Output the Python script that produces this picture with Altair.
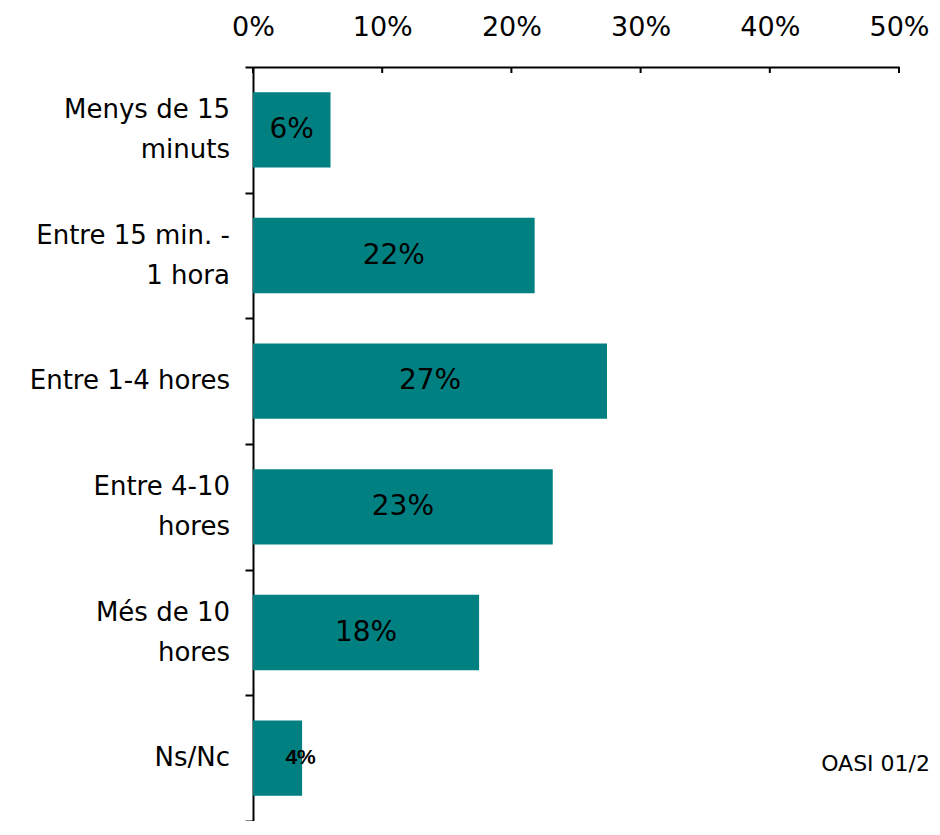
import altair as alt
import pandas as pd

categories = ["Menys de 15|minuts", "Entre 15 min. -|1 hora", "Entre 1-4 hores",
              "Entre 4-10|hores", "Més de 10|hores", "Ns/Nc"]
values = [6.0, 21.8, 27.4, 23.2, 17.5, 3.8]
labels = ["6%", "22%", "27%", "23%", "18%", "4%"]
main_label = [True, True, True, True, True, False]
tick_values = [0, 10, 20, 30, 40, 50]
source_note = ["OASI 01/2"]

parts = [c.split("|") for c in categories]
df = pd.DataFrame({
    "cat": categories, "val": values, "lab": labels, "main": main_label,
    "l1": [p[0] for p in parts],
    "l2": [p[1] if len(p) > 1 else "" for p in parts],
    "two": [len(p) > 1 for p in parts],
})

FONT = "DejaVu Sans"
W, H = 646, 754

xscale = alt.Scale(domain=[0, 50], nice=False)
yscale = alt.Scale(paddingInner=0, paddingOuter=0)
Y = alt.Y("cat:N", sort=None, scale=yscale)

base = alt.Chart(df)

bars = base.mark_bar(color="#008080", height=alt.RelativeBandSize(0.6)).encode(
    x=alt.X("val:Q", scale=xscale,
            axis=alt.Axis(orient="top", values=tick_values, labelExpr="datum.value + '%'",
                          title=None, ticks=False, tickSize=0, labelFont=FONT, labelFontSize=27,
                          labelColor="black", labelPadding=32, labelBaseline="alphabetic",
                          domainColor="black", domainWidth=2, grid=False, labelFlush=False)),
    y=alt.Y("cat:N", sort=None, scale=yscale,
            axis=alt.Axis(title=None, labels=False, tickBand="extent",
                          tickSize=8, tickWidth=2, tickColor="black", domainColor="black",
                          domainWidth=2)),
)

ylab_common = dict(font=FONT, fontSize=26, color="black", align="right", baseline="middle")
ylab_top = base.transform_filter("datum.two").mark_text(dy=-20, **ylab_common).encode(
    x=alt.value(-23), y=Y, text="l1:N")
ylab_bot = base.transform_filter("datum.two").mark_text(dy=20, **ylab_common).encode(
    x=alt.value(-23), y=Y, text="l2:N")
ylab_one = base.transform_filter("!datum.two").mark_text(**ylab_common).encode(
    x=alt.value(-23), y=Y, text="l1:N")

main_text = base.transform_filter("datum.main").transform_calculate(
    mid="datum.val / 2"
).mark_text(font=FONT, fontSize=28, color="black").encode(
    x=alt.X("mid:Q", scale=xscale), y=Y, text="lab:N"
)

small_text = base.transform_filter("!datum.main").transform_calculate(
    mid="datum.val / 2"
).mark_text(font="Liberation Sans", fontWeight="bold", fontSize=21, color="black", dx=23).encode(
    x=alt.X("mid:Q", scale=xscale), y=Y, text="lab:N"
)

tick_rules = alt.Chart(pd.DataFrame({"t": tick_values})).mark_rule(
    color="black", strokeWidth=2
).encode(x=alt.X("t:Q", scale=xscale), y=alt.value(0), y2=alt.value(6))

note = alt.Chart(pd.DataFrame({"t": source_note})).mark_text(
    align="right", font=FONT, fontSize=22, color="black"
).encode(x=alt.value(W + 31), y=alt.value(H - 57), text="t:N")

chart = alt.layer(bars, ylab_top, ylab_bot, ylab_one, main_text, small_text, tick_rules, note).properties(
    width=W, height=H,
    autosize=alt.AutoSizeParams(type="none"),
    padding={"left": 245, "top": 59, "right": 33, "bottom": 0},
).configure_view(stroke=None)

chart.save("out.html", embed_options={"renderer": "svg", "actions": False})
